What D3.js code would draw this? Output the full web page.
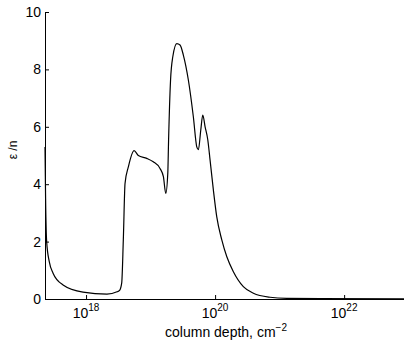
<!DOCTYPE html>
<html>
<head>
<meta charset="utf-8">
<script src="https://cdn.jsdelivr.net/npm/d3@7"></script>
<style>
  body { margin: 0; background: #fff; }
  text { font-family: "Liberation Sans", Arial, sans-serif; fill: #000; }
</style>
</head>
<body>
<script>
// column depth (cm^-2) and epsilon/n
var depth = [2.31e17, 2.36e17, 2.45e17, 2.69e17, 3.08e17, 4.40e17, 8.97e17, 2.11e18,
  3.02e18, 3.31e18, 3.57e18, 3.78e18, 4.02e18, 4.52e18, 5.55e18, 6.46e18, 8.73e18,
  1.10e19, 1.40e19, 1.58e19, 1.72e19, 1.85e19, 1.90e19, 2.04e19, 2.21e19, 2.55e19,
  2.86e19, 3.22e19, 3.85e19, 4.60e19, 5.20e19, 5.51e19, 6.00e19, 6.44e19, 7.00e19,
  7.70e19, 8.36e19, 9.40e19, 1.06e20, 1.27e20, 1.52e20, 1.92e20, 2.74e20, 3.92e20,
  7.11e20, 1.29e21, 4.25e21, 9.77e22];
var eps = [5.3, 3.5, 2.0, 1.3, 0.9, 0.49, 0.24, 0.17,
  0.25, 0.3, 0.56, 2.06, 4.03, 4.6, 5.17, 5.0, 4.9,
  4.78, 4.55, 4.26, 3.68, 4.4, 5.5, 7.63, 8.44, 8.9,
  8.85, 8.5, 7.63, 6.35, 5.3, 5.2, 5.89, 6.41, 6.0,
  5.55, 4.84, 3.8, 2.87, 2.06, 1.47, 0.95, 0.43, 0.2,
  0.06, 0.02, 0.01, 0.005];

var yTicks = [0, 2, 4, 6, 8, 10];
var xTickExp = [18, 20, 22];

var width = 404,
    height = 347;

var svg = d3.select("body").append("svg")
    .attr("width", width)
    .attr("height", height);

var x = d3.scaleLog()
    .domain([2.31e17, 9.77e22])
    .range([45, 408]);

var y = d3.scaleLinear()
    .domain([0, 10])
    .range([299, 12]);

var pts = depth.map(function(d, i) { return [d, eps[i]]; });

// curve
svg.append("path")
    .datum(pts)
    .attr("fill", "none")
    .attr("stroke", "#000")
    .attr("stroke-width", 1.2)
    .attr("d", d3.line()
        .x(function(d) { return x(d[0]); })
        .y(function(d) { return y(d[1]); })
        .curve(d3.curveMonotoneX));

// y axis, ticks inward
var yAxis = svg.append("g")
    .attr("transform", "translate(45,0)")
    .call(d3.axisRight(y).tickValues(yTicks).tickSize(4).tickFormat(""));
yAxis.select(".domain").attr("d", "M0.5," + y(10) + "V" + y(0));
yAxis.selectAll("line").attr("stroke", "#000");

yTicks.forEach(function(t) {
  svg.append("text")
      .attr("x", 41)
      .attr("y", y(t))
      .attr("dy", "0.35em")
      .attr("text-anchor", "end")
      .style("font-size", "14px")
      .text(t);
});

// x axis, ticks inward
var xAxis = svg.append("g")
    .attr("transform", "translate(0,299)")
    .call(d3.axisTop(x).tickValues(xTickExp.map(function(e) { return Math.pow(10, e); }))
        .tickSize(4).tickFormat(""));
xAxis.select(".domain").attr("d", "M45,0.5H408");

xTickExp.forEach(function(e) {
  var t = svg.append("text")
      .attr("x", x(Math.pow(10, e)))
      .attr("y", 318)
      .attr("text-anchor", "middle")
      .style("font-size", "14px");
  t.append("tspan").text("10");
  t.append("tspan").attr("dy", -7).style("font-size", "10px").text(e);
});

// axis labels
var xl = svg.append("text")
    .attr("x", 226)
    .attr("y", 337)
    .attr("text-anchor", "middle")
    .style("font-size", "14px");
xl.append("tspan").text("column depth, cm");
xl.append("tspan").attr("dy", -6).style("font-size", "10px").text("\u22122");

svg.append("text")
    .attr("transform", "translate(17,150) rotate(-90)")
    .attr("text-anchor", "middle")
    .style("font-size", "12px")
    .text("\u03b5 /n");
</script>
</body>
</html>
